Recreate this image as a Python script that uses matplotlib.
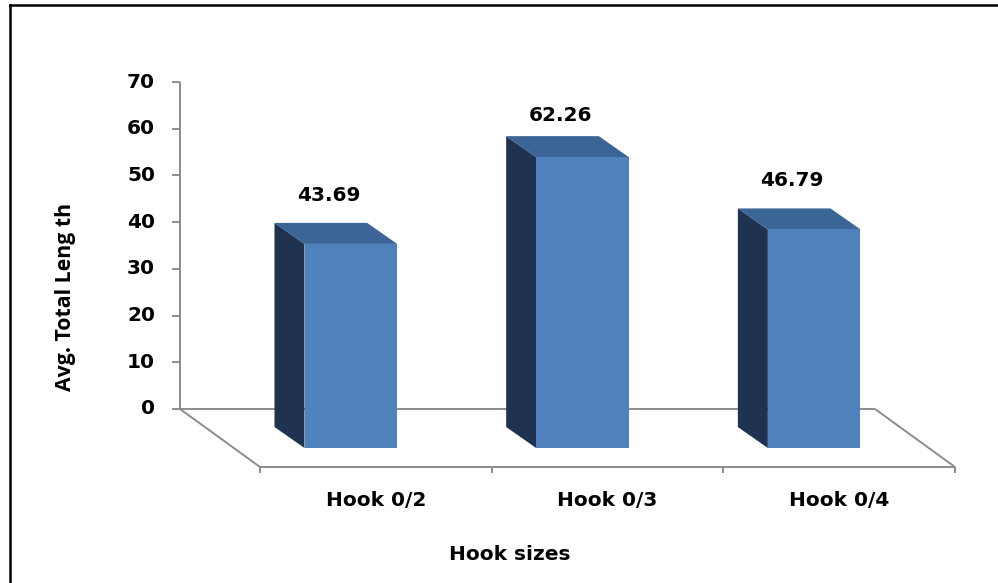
import matplotlib
matplotlib.use("Agg")
import matplotlib.pyplot as plt
from matplotlib.patches import Polygon, Rectangle
from matplotlib.lines import Line2D

# ---- data ----
categories = ["Hook 0/2", "Hook 0/3", "Hook 0/4"]
values = [43.69, 62.26, 46.79]
value_labels = ["43.69", "62.26", "46.79"]
yticks = [0, 10, 20, 30, 40, 50, 60, 70]
x_title = "Hook sizes"
y_title = "Avg. Total Leng th"

# ---- figure / layout ----
W, H = 998, 583
fig = plt.figure(figsize=(W / 100, H / 100), dpi=100)
fig.patch.set_facecolor("white")

ax = fig.add_axes([180 / W, (H - 409) / H, 695 / W, 327 / H])
ax.set_xlim(0, len(categories))
ax.set_ylim(0, 70)
ax.axis("off")

px_x = (695 / W * W) / len(categories)   # pixels per category unit
px_y = 327 / 70                           # pixels per value unit

def off(dx_px, dy_px):
    """oblique depth offset, pixels -> data units (dy down in image)"""
    return dx_px / px_x, -dy_px / px_y

FX, FY = off(80, 58)     # floor depth
BX, BY = off(25, 18)     # bar back face
QX, QY = off(55, 39)     # bar front face

axis_col = "#8c8c8c"
front_col = "#4f81bd"
side_col = "#1f3350"
top_col = "#3b6596"
txt = dict(family="DejaVu Sans", weight="bold", color="black")
fs = 14.5

# floor
lk = dict(color=axis_col, lw=1.4, clip_on=False, zorder=1, solid_capstyle="butt")
n = len(categories)
ax.plot([0, n], [0, 0], **lk)
ax.plot([0, FX], [0, FY], **lk)
ax.plot([FX, n + FX], [FY, FY], **lk)
ax.plot([n, n + FX], [0, FY], **lk)
for i in range(n + 1):
    ax.plot([i + FX, i + FX], [FY, FY - 6 / px_y], **lk)

# y axis
ax.plot([0, 0], [0, 70], **lk)
for t in yticks:
    ax.plot([-8 / px_x, 0], [t, t], **lk)
    ax.text(-25 / px_x, t, str(t), ha="right", va="center", fontsize=fs, **txt)

# bars
w = 0.40
for i, (v, lab) in enumerate(zip(values, value_labels)):
    c = i + 0.5
    x0, x1 = c - w / 2, c + w / 2
    side = [(x0 + BX, BY), (x0 + BX, v + BY), (x0 + QX, v + QY), (x0 + QX, QY)]
    top = [(x0 + BX, v + BY), (x1 + BX, v + BY), (x1 + QX, v + QY), (x0 + QX, v + QY)]
    ax.add_patch(Polygon(side, closed=True, facecolor=side_col, edgecolor="none",
                         clip_on=False, zorder=3))
    ax.add_patch(Polygon(top, closed=True, facecolor=top_col, edgecolor="none",
                         clip_on=False, zorder=3))
    ax.add_patch(Rectangle((x0 + QX, QY), w, v, facecolor=front_col, edgecolor="none",
                           clip_on=False, zorder=4))
    ly = min(v + BY + 27.5 / px_y, 70 - 7.2)
    ax.text(c + 33 / px_x, ly, lab, ha="center", va="center", fontsize=fs, **txt)

# category labels (front edge)
for i, cat in enumerate(categories):
    ax.text(i + 0.5 + FX, FY - 33 / px_y, cat, ha="center", va="center",
            fontsize=fs, **txt)

# axis titles
fig.text(510 / W, 1 - 555 / H, x_title, ha="center", va="center", fontsize=fs, **txt)
fig.text(65 / W, 1 - 297 / H, y_title, ha="center", va="center", rotation=90,
         fontsize=15.3, family="Open Sans", weight="bold", color="black")

# outer border (left and top visible)
fig.add_artist(Line2D([10 / W, 10 / W], [-0.01, 1 - 5 / H], color="black", lw=1.8,
                      transform=fig.transFigure))
fig.add_artist(Line2D([10 / W, 1.01], [1 - 5 / H, 1 - 5 / H], color="black", lw=1.8,
                      transform=fig.transFigure))

fig.savefig("out.png", dpi=100, facecolor="white")
